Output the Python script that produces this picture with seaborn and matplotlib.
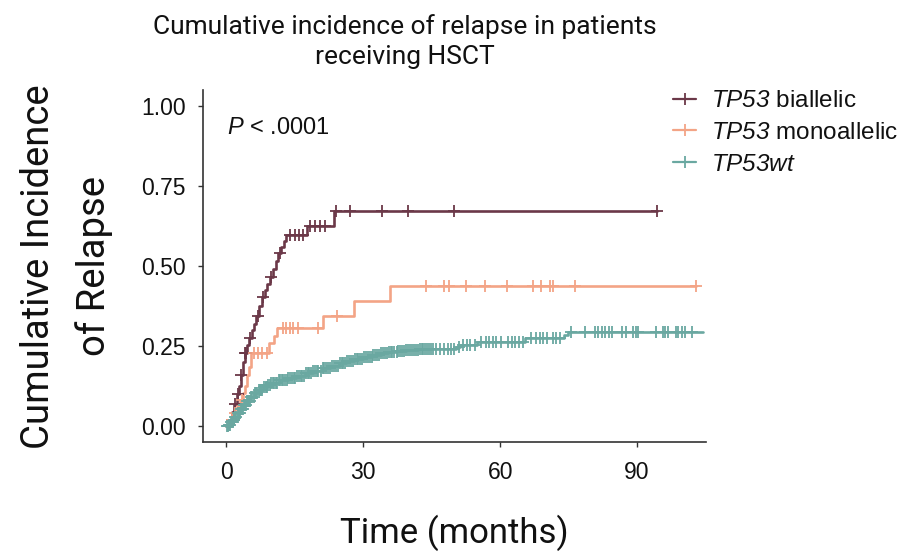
import numpy as np
import pandas as pd
import matplotlib
matplotlib.use("Agg")
import matplotlib.pyplot as plt
from matplotlib.lines import Line2D
from matplotlib import font_manager
import seaborn as sns

# Cumulative incidence step curves: event times (months) and CIF after each step
bi_time = [0.0, 0.8, 1.3, 1.8, 2.3, 2.8, 3.2, 3.6, 4.0, 4.5, 5.0, 5.6, 6.1, 6.6,
           7.2, 7.8, 8.4, 9.0, 9.6, 10.2, 10.8, 11.4, 12.0, 12.6, 13.1, 17.6, 23.5]
bi_cif = [0.0, 0.02, 0.045, 0.07, 0.10, 0.125, 0.16, 0.20, 0.23, 0.255, 0.275, 0.30,
          0.32, 0.345, 0.375, 0.405, 0.425, 0.445, 0.465, 0.49, 0.515, 0.54, 0.56,
          0.58, 0.597, 0.627, 0.673]
bi_end = 94.3
bi_censor = [1.2, 2.0, 2.6, 3.3, 4.2, 4.4, 5.3, 6.9, 8.1, 9.9, 11.7, 14.0, 15.1, 16.0,
             16.9, 18.4, 19.5, 20.6, 21.7, 24.1, 27.2, 34.2, 39.8, 50.0, 94.3]

mono_time = [0.0, 1.0, 1.6, 2.4, 3.1, 3.7, 4.2, 4.6, 4.9, 5.4, 9.3, 10.4, 11.1,
             21.2, 28.0, 35.9]
mono_cif = [0.0, 0.02, 0.043, 0.065, 0.083, 0.105, 0.125, 0.16, 0.186, 0.228, 0.26,
            0.283, 0.306, 0.344, 0.393, 0.437]
mono_end = 103.0
mono_censor = [1.3, 2.0, 3.4, 6.1, 6.9, 7.9, 8.9, 12.4, 13.1, 13.9, 14.6, 15.8, 20.2,
               24.2, 43.7, 47.8, 48.7, 52.5, 56.7, 61.6, 67.3, 68.9, 70.9, 71.6,
               76.4, 103.0]

wt_time = [0.0, 0.5, 1.0, 1.5, 2.0, 2.5, 3.1, 3.8, 4.5, 5.3, 6.1, 7.0, 8.0, 9.0, 9.8,
           11.5, 13.5, 15.3, 17.2, 19.0, 21.0, 22.8, 24.6, 26.3, 28.0, 30.0, 32.0,
           33.8, 35.5, 37.5, 39.4, 42.0, 44.6, 50.3, 51.3, 54.9, 65.4, 73.9, 74.9]
wt_cif = [0.0, 0.006, 0.013, 0.02, 0.03, 0.041, 0.053, 0.067, 0.08, 0.092, 0.104,
          0.114, 0.123, 0.13, 0.135, 0.144, 0.152, 0.159, 0.166, 0.174, 0.182, 0.19,
          0.197, 0.204, 0.211, 0.217, 0.223, 0.228, 0.232, 0.235, 0.238, 0.241,
          0.243, 0.248, 0.253, 0.264, 0.275, 0.284, 0.295]
wt_end = 104.5
wt_censor = [0.2, 0.4, 0.6, 0.8, 1.0, 1.2, 1.4, 1.6, 1.8, 2.0, 2.2, 2.5, 2.7, 3.0, 3.2,
             3.5, 3.7, 3.9, 4.1, 4.3, 4.6, 4.8, 5.0, 5.2, 5.5, 5.7, 6.0, 6.3, 6.5,
             6.8, 7.1, 7.4, 7.7, 7.9, 8.2, 8.6, 8.9, 9.2, 9.6, 9.9, 10.2, 10.5, 10.9,
             11.2, 11.5, 11.8, 12.2, 12.5, 12.9, 13.3, 13.6, 14.0, 14.4, 14.8, 15.1,
             15.5, 15.9, 16.3, 16.6, 17.0, 17.5, 17.9, 18.2, 18.6, 19.0, 19.4, 19.8,
             20.2, 20.7, 21.1, 21.5, 21.9, 22.3, 22.7, 23.2, 23.6, 24.0, 24.4, 24.9,
             25.3, 25.6, 26.0, 26.5, 26.9, 27.3, 27.7, 28.2, 28.6, 28.9, 29.3, 29.8,
             30.2, 30.6, 31.0, 31.5, 31.9, 32.2, 32.6, 33.1, 33.5, 33.9, 34.3, 34.8,
             35.2, 35.6, 36.0, 36.4, 36.8, 37.3, 37.7, 38.1, 38.5, 39.0, 39.4, 39.8,
             40.2, 40.7, 41.1, 41.5, 41.9, 42.4, 42.8, 43.1, 43.5, 44.0, 44.4, 44.9,
             45.3, 46.0, 46.9, 47.6, 48.5, 49.3, 50.0, 51.0, 51.8, 52.7, 53.5, 54.5,
             55.8, 56.8, 57.6, 58.4, 59.2, 60.2, 61.7, 62.6, 63.3, 64.1, 65.0, 66.7,
             67.9, 68.7, 69.5, 70.3, 71.6, 72.3, 73.1, 75.5, 78.5, 80.8, 81.5, 82.3,
             83.0, 83.8, 84.5, 86.7, 87.6, 89.2, 89.8, 90.3, 94.2, 95.6, 96.2, 96.7,
             98.6, 99.0, 99.8, 100.5, 102.0]

groups = ["TP53 biallelic", "TP53 monoallelic", "TP53wt"]
legend_labels = [r"$TP53$ biallelic", r"$TP53$ monoallelic", r"$TP53wt$"]
colors = ["#6b3848", "#f3a486", "#6aa8a1"]
x_ticks = [0, 30, 60, 90]
y_ticks = [0.00, 0.25, 0.50, 0.75, 1.00]
y_ticklabels = ["0.00", "0.25", "0.50", "0.75", "1.00"]

curves = {
    "TP53 biallelic": (bi_time, bi_cif, bi_end, bi_censor),
    "TP53 monoallelic": (mono_time, mono_cif, mono_end, mono_censor),
    "TP53wt": (wt_time, wt_cif, wt_end, wt_censor),
}

# fonts
installed = {f.name for f in font_manager.fontManager.ttflist}
base_font = "Liberation Sans" if "Liberation Sans" in installed else "DejaVu Sans"
narrow_font = "Liberation Sans Narrow" if "Liberation Sans Narrow" in installed else (
    "Roboto" if "Roboto" in installed else base_font)

sns.set_theme(style="white")
plt.rcParams["font.family"] = [base_font, "DejaVu Sans"]
# math segments (gene names, P) are set entirely in italic
plt.rcParams["mathtext.fontset"] = "custom"
plt.rcParams["mathtext.rm"] = base_font + ":italic"
plt.rcParams["mathtext.it"] = base_font + ":italic"

fig = plt.figure(figsize=(9.05, 5.54), dpi=100)
ax = fig.add_axes([0.2243, 0.2013, 0.5558, 0.6363])

step_frames = []
censor_frames = []
for g in groups:
    t, c, end, cens = curves[g]
    step_frames.append(pd.DataFrame({"time": list(t) + [end], "cif": list(c) + [c[-1]], "group": g}))
    idx = np.searchsorted(np.asarray(t), np.asarray(cens), side="right") - 1
    censor_frames.append(pd.DataFrame({"time": cens, "cif": np.asarray(c)[idx], "group": g}))
steps = pd.concat(step_frames, ignore_index=True)
censors = pd.concat(censor_frames, ignore_index=True)

sizes = {"TP53 biallelic": 75, "TP53 monoallelic": 65, "TP53wt": 80}
for g, col in zip(groups, colors):
    sns.lineplot(data=steps[steps.group == g], x="time", y="cif", color=col,
                 estimator=None, sort=False, drawstyle="steps-post",
                 linewidth=1.9, ax=ax, legend=False)
    sns.scatterplot(data=censors[censors.group == g], x="time", y="cif", color=col,
                    marker="+", s=sizes[g], linewidth=1.3, ax=ax, legend=False, zorder=3)

ax.set_xlim(-5.1, 105.1)
ax.set_ylim(-0.05, 1.05)
ax.set_xticks(x_ticks)
ax.set_yticks(y_ticks)
ax.set_yticklabels(y_ticklabels)
ax.tick_params(axis="both", which="major", length=3.5, width=1.0, color="#333333",
               labelsize=16.5, labelcolor="#111111", direction="out", bottom=True, left=True)
ax.tick_params(axis="x", pad=10)
ax.tick_params(axis="y", pad=9)
for side in ["top", "right"]:
    ax.spines[side].set_visible(False)
for side in ["left", "bottom"]:
    ax.spines[side].set_color("#333333")
    ax.spines[side].set_linewidth(1.2)

ax.set_xlabel("Time (months)", fontsize=25, family=[narrow_font, "DejaVu Sans"],
              labelpad=22, color="#111111")
ax.set_ylabel("Cumulative Incidence\nof Relapse", fontsize=27.5,
              family=[narrow_font, "DejaVu Sans"], labelpad=20, linespacing=1.6,
              color="#111111")

ax.text(0.048, 0.892, r"$P$ < .0001", transform=ax.transAxes, fontsize=17,
        ha="left", va="center", color="#111111")

fig.text(0.4475, 0.975, "Cumulative incidence of relapse in patients\nreceiving HSCT",
         ha="center", va="top", fontsize=19, family=[narrow_font, "DejaVu Sans"],
         linespacing=1.32, color="#111111")

handles = [Line2D([0], [0], color=col, marker="+", markersize=9, linewidth=1.6,
                  markeredgewidth=1.3) for col in colors]
fig.legend(handles, legend_labels, loc="upper left", bbox_to_anchor=(0.733, 0.855),
           frameon=False, fontsize=17.5, handlelength=0.95, handletextpad=0.6,
           labelspacing=0.4, borderaxespad=0, labelcolor="#111111")

fig.savefig("out.png", dpi=100)
